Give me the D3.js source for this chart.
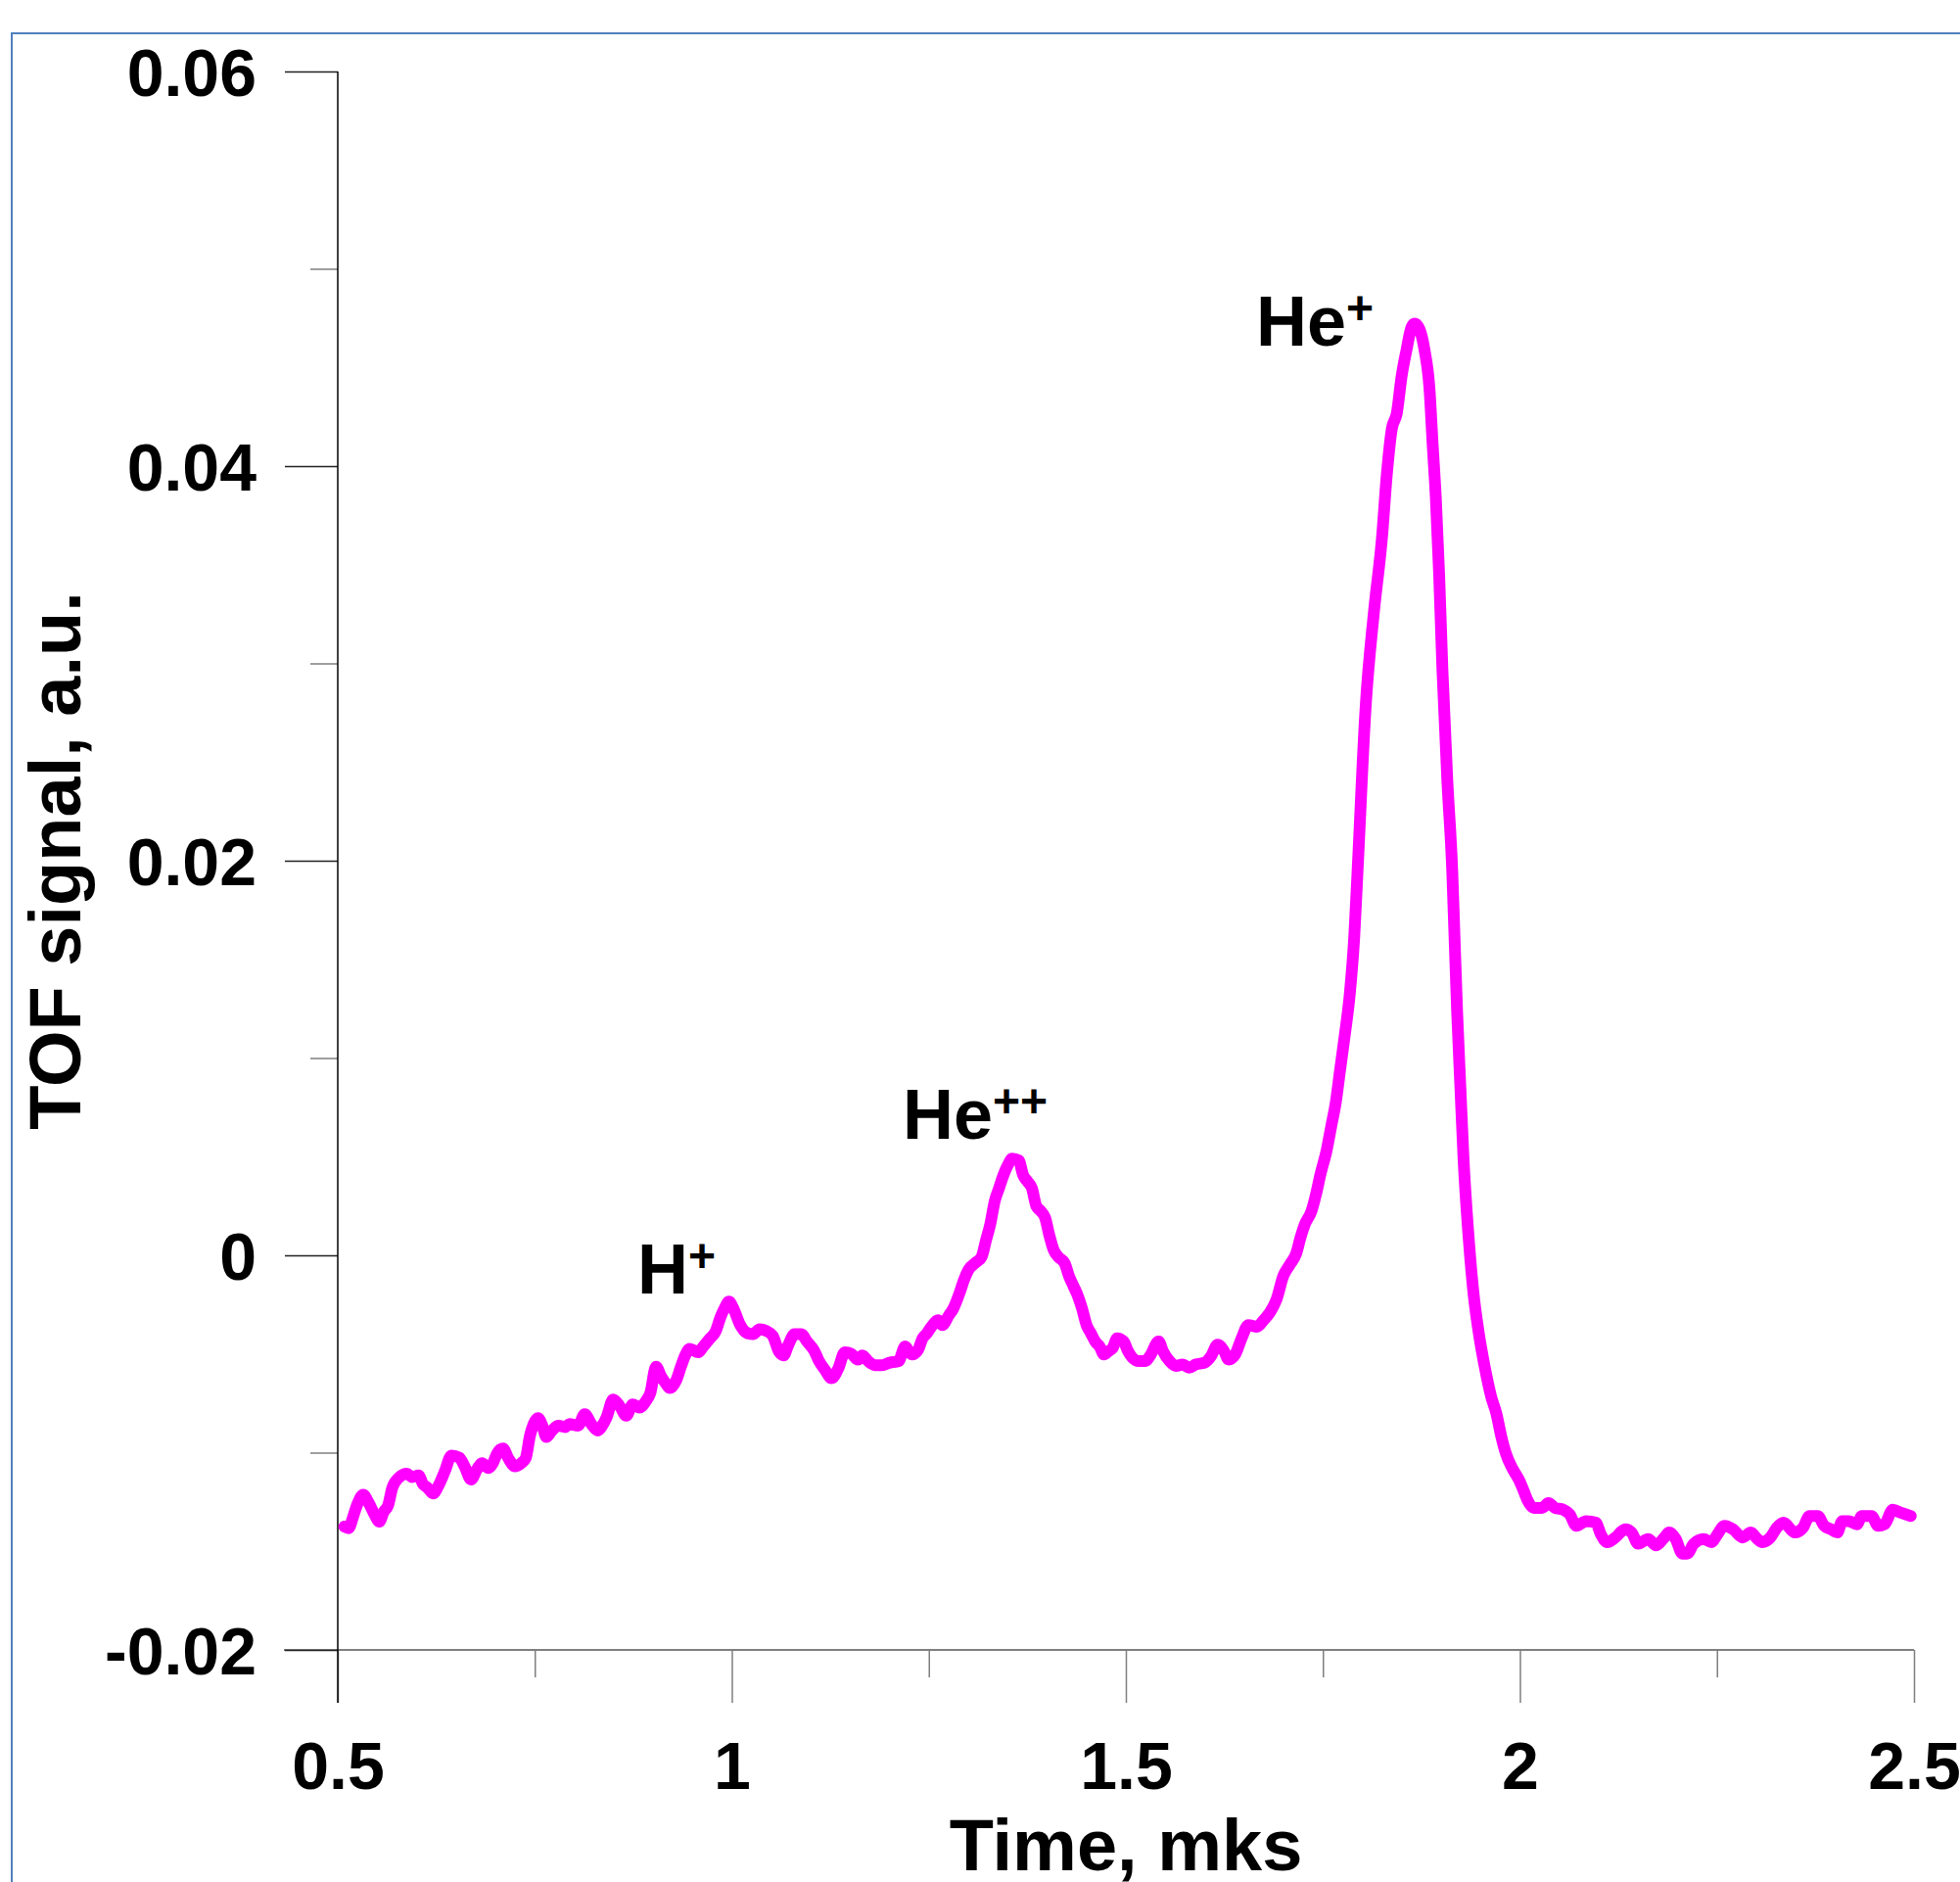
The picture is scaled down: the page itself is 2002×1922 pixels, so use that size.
<!DOCTYPE html>
<html><head><meta charset="utf-8">
<script src="https://cdn.jsdelivr.net/npm/d3@7"></script>
<style>html,body{margin:0;padding:0;background:#fff}svg{display:block}</style>
</head><body>
<script>
// ---- data ----
const timeMks = [
0.5083,0.5139,0.5194,0.5250,0.5322,0.5388,0.5471,0.5527,0.5582,0.5638,0.5693,0.5776,0.5876,0.5943,0.6026,0.6082,0.6137,0.6209,0.6276,0.6359,
0.6442,0.6542,0.6608,0.6692,0.6764,0.6830,0.6913,0.6969,0.7024,0.7097,0.7163,0.7246,0.7329,0.7385,0.7440,0.7485,0.7540,0.7596,0.7646,0.7718,
0.7801,0.7884,0.7940,0.8050,0.8134,0.8217,0.8300,0.8356,0.8411,0.8494,0.8577,0.8661,0.8744,0.8827,0.8910,0.8966,0.9038,0.9104,0.9160,0.9215,
0.9298,0.9354,0.9409,0.9465,0.9576,0.9631,0.9714,0.9798,0.9853,0.9908,0.9964,1.0019,1.0103,1.0186,1.0269,1.0352,1.0435,1.0519,1.0602,1.0657,
1.0713,1.0796,1.0879,1.0962,1.1045,1.1101,1.1184,1.1267,1.1351,1.1434,1.1517,1.1600,1.1656,1.1739,1.1822,1.1905,1.2005,1.2116,1.2199,1.2282,
1.2365,1.2421,1.2476,1.2532,1.2615,1.2670,1.2754,1.2809,1.2892,1.2948,1.3003,1.3086,1.3170,1.3225,1.3280,1.3336,1.3391,1.3447,1.3502,1.3558,
1.3641,1.3696,1.3752,1.3807,1.3863,1.3918,1.3974,1.4029,1.4085,1.4140,1.4223,1.4279,1.4334,1.4390,1.4445,1.4501,1.4556,1.4612,1.4667,1.4722,
1.4778,1.4833,1.4889,1.4972,1.5027,1.5083,1.5166,1.5249,1.5305,1.5416,1.5471,1.5554,1.5637,1.5721,1.5804,1.5887,1.5998,1.6081,1.6164,1.6247,
1.6303,1.6386,1.6469,1.6553,1.6664,1.6747,1.6830,1.6913,1.6996,1.7079,1.7162,1.7218,1.7273,1.7356,1.7412,1.7467,1.7551,1.7606,1.7662,1.7717,
1.7773,1.7840,1.7898,1.7940,1.8043,1.8147,1.8250,1.8312,1.8375,1.8437,1.8499,1.8561,1.8623,1.8664,1.8727,1.8789,1.8851,1.8892,1.8934,1.8975,
1.9016,1.9079,1.9141,1.9170,1.9203,1.9244,1.9286,1.9348,1.9410,1.9472,1.9555,1.9638,1.9700,1.9762,1.9824,1.9907,1.9990,2.0052,2.0093,2.0176,
2.0280,2.0362,2.0445,2.0549,2.0632,2.0715,2.0839,2.0963,2.1025,2.1108,2.1211,2.1336,2.1418,2.1501,2.1626,2.1729,2.1832,2.1894,2.1977,2.2060,
2.2122,2.2205,2.2329,2.2433,2.2495,2.2598,2.2702,2.2826,2.2930,2.3013,2.3075,2.3178,2.3261,2.3344,2.3489,2.3592,2.3675,2.3778,2.3861,2.3944,
2.4027,2.4089,2.4172,2.4275,2.4338,2.4462,2.4545,2.4627,2.4731,2.4835,2.4959
];
const tofSignal = [
-0.01375,-0.01383,-0.01326,-0.01260,-0.01213,-0.01251,-0.01317,-0.01350,-0.01301,-0.01268,-0.01177,-0.01127,-0.01107,-0.01124,-0.01116,-0.01160,-0.01177,-0.01207,-0.01169,-0.01094,
-0.01015,-0.01025,-0.01069,-0.01136,-0.01086,-0.01053,-0.01078,-0.01053,-0.01003,-0.00979,-0.01028,-0.01069,-0.01053,-0.01028,-0.00912,-0.00855,-0.00825,-0.00863,-0.00921,-0.00888,
-0.00863,-0.00871,-0.00855,-0.00863,-0.00805,-0.00855,-0.00888,-0.00863,-0.00821,-0.00731,-0.00764,-0.00813,-0.00755,-0.00772,-0.00739,-0.00698,-0.00565,-0.00615,-0.00648,-0.00673,
-0.00631,-0.00565,-0.00507,-0.00474,-0.00491,-0.00466,-0.00425,-0.00383,-0.00317,-0.00268,-0.00235,-0.00268,-0.00350,-0.00392,-0.00400,-0.00375,-0.00383,-0.00408,-0.00491,-0.00507,
-0.00458,-0.00400,-0.00400,-0.00441,-0.00483,-0.00532,-0.00582,-0.00623,-0.00574,-0.00491,-0.00499,-0.00529,-0.00507,-0.00540,-0.00557,-0.00557,-0.00544,-0.00536,-0.00462,-0.00503,
-0.00478,-0.00420,-0.00395,-0.00362,-0.00329,-0.00354,-0.00304,-0.00271,-0.00189,-0.00122,-0.00073,-0.00040,-0.00007,0.00076,0.00159,0.00275,0.00341,0.00407,0.00457,0.00490,
0.00481,0.00407,0.00374,0.00341,0.00250,0.00225,0.00192,0.00101,0.00026,-0.00007,-0.00040,-0.00106,-0.00155,-0.00205,-0.00271,-0.00354,-0.00395,-0.00437,-0.00462,-0.00503,
-0.00486,-0.00470,-0.00420,-0.00437,-0.00486,-0.00519,-0.00536,-0.00536,-0.00511,-0.00437,-0.00486,-0.00536,-0.00561,-0.00553,-0.00569,-0.00553,-0.00544,-0.00511,-0.00453,-0.00486,
-0.00528,-0.00503,-0.00420,-0.00354,-0.00362,-0.00329,-0.00288,-0.00222,-0.00106,-0.00048,0.00010,0.00093,0.00159,0.00225,0.00308,0.00407,0.00539,0.00655,0.00771,0.00936,
0.01102,0.01320,0.01615,0.01950,0.02784,0.03259,0.03639,0.03962,0.04190,0.04266,0.04456,0.04589,0.04703,0.04722,0.04693,0.04589,0.04399,0.04114,0.03829,0.03449,
0.02974,0.02404,0.01950,0.01615,0.01236,0.00856,0.00476,0.00096,-0.00189,-0.00379,-0.00569,-0.00721,-0.00800,-0.00916,-0.01007,-0.01082,-0.01140,-0.01198,-0.01239,-0.01280,
-0.01280,-0.01256,-0.01280,-0.01289,-0.01313,-0.01371,-0.01347,-0.01355,-0.01413,-0.01454,-0.01430,-0.01388,-0.01405,-0.01462,-0.01438,-0.01470,-0.01430,-0.01405,-0.01438,-0.01512,
-0.01512,-0.01462,-0.01438,-0.01454,-0.01421,-0.01371,-0.01388,-0.01430,-0.01405,-0.01438,-0.01454,-0.01430,-0.01380,-0.01355,-0.01405,-0.01380,-0.01321,-0.01321,-0.01371,-0.01388,
-0.01405,-0.01347,-0.01347,-0.01363,-0.01321,-0.01321,-0.01371,-0.01363,-0.01289,-0.01305,-0.01321
];
const xTickValues = [0.5, 1, 1.5, 2, 2.5];
const xTickLabels = ["0.5", "1", "1.5", "2", "2.5"];
const xMinorTickValues = [0.75, 1.25, 1.75, 2.25];
const yTickValues = [-0.02, 0, 0.02, 0.04, 0.06];
const yTickLabels = ["-0.02", "0", "0.02", "0.04", "0.06"];
const yMinorTickValues = [-0.01, 0.01, 0.03, 0.05];
const peakNames = ["H", "He", "He"];
const peakCharges = ["+", "++", "+"];
const peakLabelTimes = [0.880, 1.2168, 1.6652];
const peakLabelLevels = [-0.00194, 0.0059, 0.0461];
const xTitle = "Time, mks";
const yTitle = "TOF signal, a.u.";

// ---- drawing ----
const W = 2002, H = 1922;
const FONT = "'Liberation Sans', Arial, Helvetica, sans-serif";
const svg = d3.select("body").append("svg").attr("width", W).attr("height", H)
  .style("font-family", FONT);

svg.append("rect").attr("x", 12).attr("y", 34).attr("width", 2200).attr("height", 2200)
  .attr("fill", "none").attr("stroke", "#4f81bd").attr("stroke-width", 2);

const x = d3.scaleLinear().domain([0.5, 2.5]).range([345, 1955]);
const y = d3.scaleLinear().domain([-0.02, 0.06]).range([1685, 73]);

// x axis (gray)
const gx = svg.append("g").attr("transform", `translate(0,${y(-0.02)})`);
gx.call(d3.axisBottom(x).tickValues(xTickValues).tickSize(54).tickPadding(40)
  .tickFormat((d, i) => xTickLabels[i]));
gx.select(".domain").remove();
gx.selectAll(".tick line").attr("stroke", "#7f7f7f").attr("stroke-width", 1.5);
gx.selectAll(".tick text").attr("font-size", 68).attr("font-weight", "bold")
  .attr("fill", "#000").attr("font-family", FONT);
const gxm = svg.append("g").attr("transform", `translate(0,${y(-0.02)})`);
gxm.call(d3.axisBottom(x).tickValues(xMinorTickValues).tickSize(28).tickFormat(""));
gxm.select(".domain").remove();
gxm.selectAll(".tick line").attr("stroke", "#7f7f7f").attr("stroke-width", 1.5);
svg.append("line").attr("x1", 290).attr("x2", x(2.5)).attr("y1", y(-0.02)).attr("y2", y(-0.02))
  .attr("stroke", "#7f7f7f").attr("stroke-width", 2);

// y axis (black)
const gy = svg.append("g").attr("transform", `translate(${x(0.5)},0)`);
gy.call(d3.axisLeft(y).tickValues(yTickValues).tickSize(54).tickPadding(29)
  .tickFormat((d, i) => yTickLabels[i]));
gy.select(".domain").remove();
gy.selectAll(".tick line").attr("stroke", "#222").attr("stroke-width", 1.5);
gy.selectAll(".tick text").attr("font-size", 68).attr("font-weight", "bold")
  .attr("fill", "#000").attr("dy", "0.36em").attr("font-family", FONT);
const gym = svg.append("g").attr("transform", `translate(${x(0.5)},0)`);
gym.call(d3.axisLeft(y).tickValues(yMinorTickValues).tickSize(28).tickFormat(""));
gym.select(".domain").remove();
gym.selectAll(".tick line").attr("stroke", "#7f7f7f").attr("stroke-width", 1.5);
svg.append("line").attr("x1", x(0.5)).attr("x2", x(0.5)).attr("y1", y(0.06)).attr("y2", y(-0.02) + 54)
  .attr("stroke", "#000").attr("stroke-width", 1.5);

// titles
svg.append("text").attr("x", (x(0.5) + x(2.5)) / 2).attr("y", 1910)
  .attr("text-anchor", "middle").attr("font-size", 74).attr("font-weight", "bold").text(xTitle);
svg.append("text").attr("transform", `translate(82,${(y(0.06) + y(-0.02)) / 2}) rotate(-90)`)
  .attr("text-anchor", "middle").attr("font-size", 74).attr("font-weight", "bold").text(yTitle);

// curve
const pts = timeMks.map((t, i) => [t, tofSignal[i]]);
svg.append("path").datum(pts)
  .attr("d", d3.line().x(d => x(d[0])).y(d => y(d[1])).curve(d3.curveMonotoneX))
  .attr("fill", "none").attr("stroke", "#ff00ff").attr("stroke-width", 12)
  .attr("stroke-linejoin", "round").attr("stroke-linecap", "round");

// peak labels
peakNames.forEach((nm, i) => {
  const t = svg.append("text").attr("x", x(peakLabelTimes[i])).attr("y", y(peakLabelLevels[i]))
    .attr("font-size", 72).attr("font-weight", "bold").attr("fill", "#000");
  t.append("tspan").text(nm);
  t.append("tspan").attr("font-size", 48).attr("dy", -22).text(peakCharges[i]);
});
</script>
</body></html>
